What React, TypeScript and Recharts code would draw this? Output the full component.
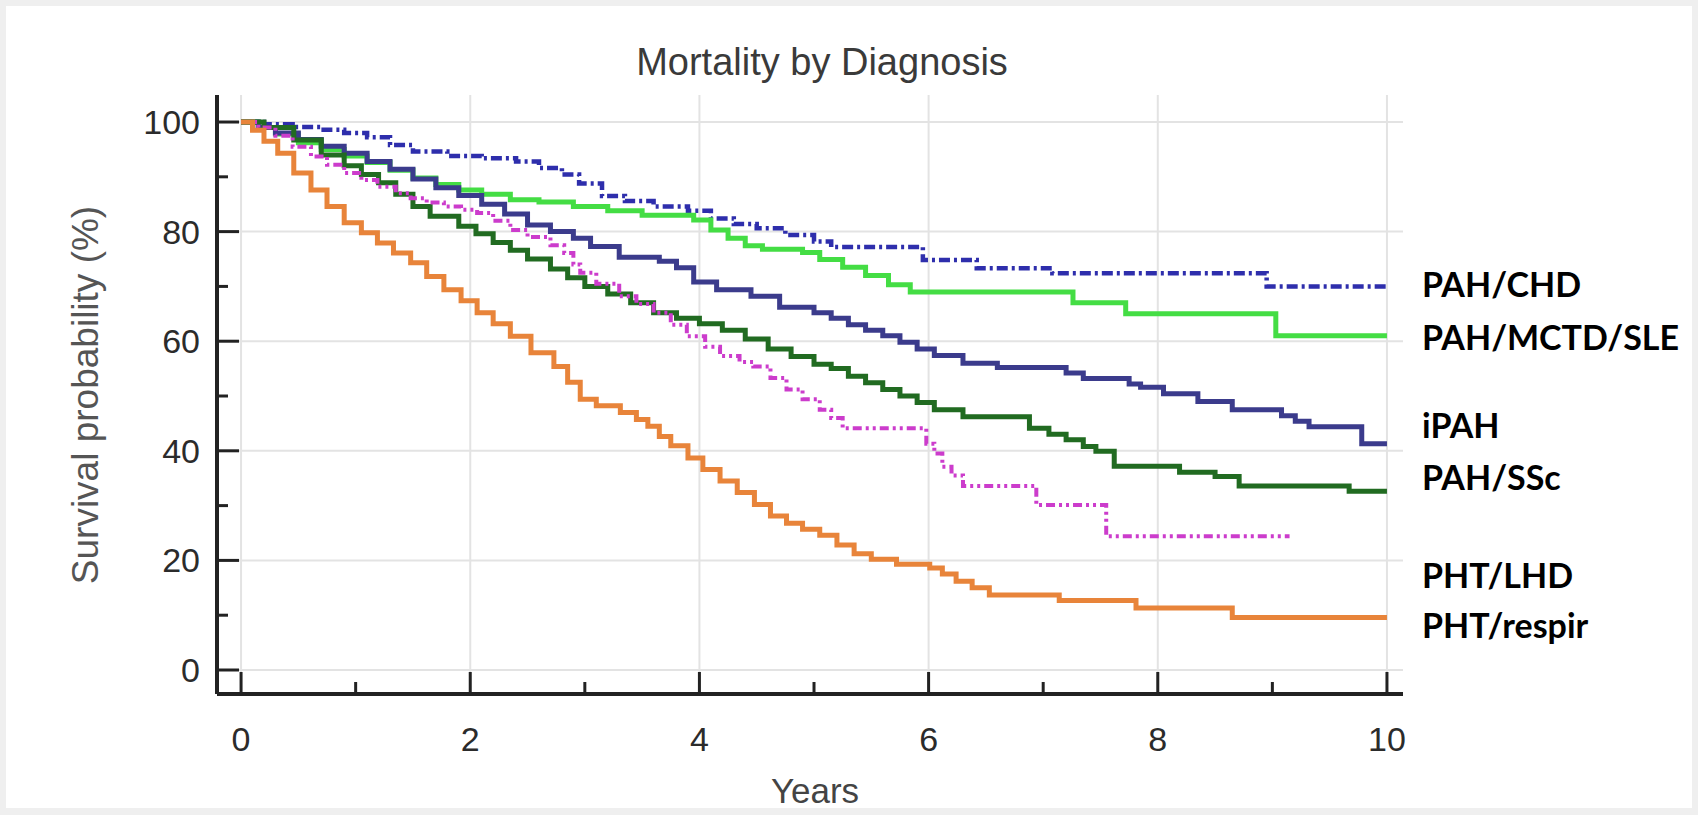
import React from 'react';
import { LineChart, Line, XAxis, YAxis, CartesianGrid } from 'recharts';

// Kaplan-Meier survival (%) by diagnosis
const chdTime = [0, 0.2, 0.45, 0.7, 0.9, 1.1, 1.3, 1.5, 1.8, 2.1, 2.4, 2.6, 2.8, 2.95, 3.15, 3.35, 3.6, 3.9, 4.1, 4.3, 4.5, 4.75, 5.0, 5.15, 5.95, 6.42, 7.08, 8.95, 10];
const chdSurv = [100, 99.6, 99.1, 98.6, 98, 97.2, 95.8, 94.6, 93.8, 93.4, 92.8, 91.6, 90.4, 88.8, 86.5, 85.6, 84.6, 83.8, 82.4, 81.4, 80.6, 79.4, 78.2, 77.2, 74.8, 73.3, 72.4, 70, 70];

const mctdTime = [0, 0.15, 0.3, 0.5, 0.7, 0.9, 1.1, 1.3, 1.5, 1.7, 1.9, 2.1, 2.35, 2.6, 2.9, 3.2, 3.5, 3.95, 4.1, 4.25, 4.4, 4.55, 4.9, 5.05, 5.25, 5.45, 5.65, 5.84, 7.26, 7.72, 9.03, 10];
const mctdSurv = [100, 99, 97.8, 96.2, 95, 93.8, 92.6, 91.2, 89.8, 88.6, 87.6, 86.8, 85.8, 85.4, 84.6, 83.8, 83, 82.1, 80.3, 78.8, 77.4, 76.8, 76.2, 74.9, 73.5, 72, 70.3, 69, 67, 65, 61, 61];

const ipahTime = [0, 0.15, 0.3, 0.5, 0.7, 0.9, 1.1, 1.3, 1.5, 1.7, 1.9, 2.1, 2.3, 2.5, 2.7, 2.9, 3.05, 3.3, 3.65, 3.8, 3.95, 4.15, 4.45, 4.7, 5.0, 5.15, 5.3, 5.45, 5.6, 5.75, 5.9, 6.05, 6.3, 6.6, 7.2, 7.35, 7.75, 7.85, 8.05, 8.35, 8.65, 9.08, 9.2, 9.32, 9.78, 10];
const ipahSurv = [100, 99, 98, 96.8, 95.6, 94.3, 92.8, 91.4, 89.6, 88, 86.6, 85, 83.2, 81.2, 80, 78.8, 77.3, 75.3, 74.6, 73.4, 70.8, 69.4, 68.2, 66.2, 65.2, 64.2, 63, 62, 61, 59.8, 58.6, 57.4, 56, 55.2, 54.2, 53.2, 52.2, 51.6, 50.4, 49, 47.5, 46.4, 45.4, 44.4, 41.3, 41.3];

const sscTime = [0, 0.2, 0.46, 0.7, 0.9, 1.05, 1.2, 1.35, 1.5, 1.65, 1.9, 2.05, 2.2, 2.35, 2.5, 2.7, 2.85, 3.0, 3.2, 3.4, 3.6, 3.8, 4.0, 4.2, 4.4, 4.6, 4.8, 5.0, 5.15, 5.3, 5.45, 5.6, 5.75, 5.9, 6.05, 6.3, 6.88, 7.05, 7.2, 7.35, 7.46, 7.62, 8.19, 8.5, 8.71, 9.67, 10];
const sscSurv = [100, 99, 96.7, 94, 92, 90.4, 88.9, 86.8, 84.6, 82.8, 81, 79.6, 78, 76.6, 75, 73.2, 71.6, 70, 68.6, 67, 65.2, 64.2, 63.2, 62, 60.4, 58.6, 57.2, 55.8, 55, 53.6, 52.4, 51.2, 50, 48.8, 47.5, 46.2, 44.1, 43, 42, 40.8, 39.9, 37.2, 36.1, 35.3, 33.6, 32.6, 32.6];

const lhdTime = [0, 0.15, 0.3, 0.45, 0.61, 0.75, 0.9, 1.05, 1.19, 1.35, 1.48, 1.62, 1.77, 1.92, 2.06, 2.2, 2.35, 2.5, 2.7, 2.82, 2.9, 2.96, 3.1, 3.3, 3.45, 3.6, 3.75, 3.89, 4.05, 4.18, 4.35, 4.47, 4.62, 4.76, 4.9, 5.05, 5.15, 5.25, 5.98, 6.05, 6.12, 6.2, 6.3, 6.94, 7.55, 9.15];
const lhdSurv = [100, 99, 97.5, 95.5, 93.7, 92.2, 90.7, 89.4, 88.2, 87, 86.1, 85.3, 84.6, 84, 83.4, 82, 80.3, 79, 77.5, 76.1, 74, 72.5, 70.5, 68.2, 66.8, 65.2, 63, 60.9, 59, 57.3, 56.2, 55.4, 53.3, 51.2, 49.4, 47.5, 46, 44.1, 41.3, 39.5, 37.1, 35.5, 33.6, 30.1, 24.4, 24.4];

const respTime = [0, 0.1, 0.2, 0.32, 0.46, 0.61, 0.75, 0.9, 1.05, 1.19, 1.33, 1.48, 1.62, 1.77, 1.92, 2.06, 2.2, 2.35, 2.53, 2.73, 2.85, 2.96, 3.1, 3.31, 3.45, 3.55, 3.65, 3.75, 3.9, 4.03, 4.18, 4.33, 4.48, 4.62, 4.76, 4.9, 5.05, 5.2, 5.35, 5.5, 5.72, 6.01, 6.12, 6.24, 6.38, 6.53, 7.14, 7.81, 8.65, 10];
const respSurv = [100, 98.5, 96.5, 94.3, 90.7, 87.6, 84.6, 81.6, 79.8, 77.9, 76.1, 74.3, 71.8, 69.4, 67.4, 65.2, 63.2, 60.9, 57.9, 55.4, 52.5, 49.4, 48.2, 47, 45.7, 44.5, 42.6, 40.9, 38.7, 36.6, 34.5, 32.4, 30.2, 28.1, 26.8, 25.7, 24.6, 22.8, 21.2, 20.2, 19.3, 18.6, 17.5, 16.2, 15, 13.7, 12.7, 11.3, 9.6, 9.6];

const diagnoses = ['PAH/CHD', 'PAH/MCTD/SLE', 'iPAH', 'PAH/SSc', 'PHT/LHD', 'PHT/respir'];
const yTicks = [0, 10, 20, 30, 40, 50, 60, 70, 80, 90, 100];
const xTicks = [0, 1, 2, 3, 4, 5, 6, 7, 8, 9, 10];

const toPoints = (t: number[], s: number[]) => t.map((v, i) => ({ t: v, s: s[i] }));

const series = [
  { name: diagnoses[0], data: toPoints(chdTime, chdSurv), color: '#2e2eac', width: 4.5, dash: '11 4 3 4' },
  { name: diagnoses[1], data: toPoints(mctdTime, mctdSurv), color: '#44dd44', width: 5, dash: undefined },
  { name: diagnoses[2], data: toPoints(ipahTime, ipahSurv), color: '#3b3b8c', width: 5, dash: undefined },
  { name: diagnoses[3], data: toPoints(sscTime, sscSurv), color: '#216b21', width: 5, dash: undefined },
  { name: diagnoses[4], data: toPoints(lhdTime, lhdSurv), color: '#cc3ccc', width: 4, dash: '9 4 3 4 3 4' },
  { name: diagnoses[5], data: toPoints(respTime, respSurv), color: '#e8843a', width: 5, dash: undefined },
];

const FONT = '"Liberation Sans", Arial, sans-serif';
const labelCenters = [284, 337, 425, 477, 575, 625];

const YTick = (props: any) => {
  const { x, y, payload } = props;
  const major = payload.value % 20 === 0;
  return (
    <g>
      <line x1={x} y1={y} x2={x + (major ? 22 : 11)} y2={y} stroke="#222" strokeWidth={3} />
      {major && (
        <text x={x - 17} y={y} textAnchor="end" dominantBaseline="central" fontFamily={FONT} fontSize={34} fill="#2b2b2b">
          {payload.value}
        </text>
      )}
    </g>
  );
};

const XTick = (props: any) => {
  const { x, y, payload } = props;
  const major = payload.value % 2 === 0;
  return (
    <g>
      <line x1={x} y1={y} x2={x} y2={y - (major ? 22 : 12)} stroke="#222" strokeWidth={3} />
      {major && (
        <text x={x} y={y + 45} textAnchor="middle" dominantBaseline="central" fontFamily={FONT} fontSize={34} fill="#2b2b2b">
          {payload.value}
        </text>
      )}
    </g>
  );
};

export default function App() {
  return (
    <div style={{ position: 'absolute', left: 0, top: 0, width: 1698, height: 815, background: '#efefef', overflow: 'hidden' }}>
      <div style={{ position: 'absolute', left: 6, top: 6, width: 1686, height: 802, background: '#ffffff' }} />

      <div style={{ position: 'absolute', left: 0, top: 0 }}>
        <LineChart width={1698} height={815} margin={{ top: 95, left: 157, right: 295, bottom: 91 }}>
          <CartesianGrid
            stroke="#e3e3e3"
            strokeWidth={2}
            horizontalValues={[0, 20, 40, 60, 80, 100]}
            verticalValues={[0, 2, 4, 6, 8, 10]}
          />
          <XAxis
            dataKey="t"
            type="number"
            domain={[-0.21, 10.14]}
            ticks={xTicks}
            interval={0}
            height={30}
            tickSize={0}
            tickMargin={0}
            tickLine={false}
            tick={<XTick />}
            axisLine={{ stroke: '#222', strokeWidth: 4 }}
            allowDataOverflow
          />
          <YAxis
            type="number"
            domain={[-4.38, 104.93]}
            ticks={yTicks}
            interval={0}
            width={60}
            tickSize={0}
            tickMargin={0}
            tickLine={false}
            tick={<YTick />}
            axisLine={{ stroke: '#222', strokeWidth: 4 }}
            allowDataOverflow
          />
          {series.map((s) => (
            <Line
              key={s.name}
              name={s.name}
              data={s.data}
              dataKey="s"
              type="stepAfter"
              stroke={s.color}
              strokeWidth={s.width}
              strokeDasharray={s.dash}
              dot={false}
              activeDot={false}
              isAnimationActive={false}
            />
          ))}
        </LineChart>
      </div>

      {/* Title */}
      <div style={{ position: 'absolute', left: 822, top: 62, transform: 'translate(-50%, -50%)', fontFamily: FONT, fontSize: 38, color: '#3a3a3a', whiteSpace: 'nowrap', lineHeight: 1 }}>
        Mortality by Diagnosis
      </div>

      {/* Axis titles */}
      <div style={{ position: 'absolute', left: 85, top: 395, transform: 'translate(-50%, -50%) rotate(-90deg)', fontFamily: FONT, fontSize: 37, color: '#555', whiteSpace: 'nowrap', lineHeight: 1 }}>
        Survival probability (%)
      </div>
      <div style={{ position: 'absolute', left: 815, top: 790, transform: 'translate(-50%, -50%)', fontFamily: FONT, fontSize: 35, color: '#444', whiteSpace: 'nowrap', lineHeight: 1 }}>
        Years
      </div>

      {/* Diagnosis labels on the right */}
      {diagnoses.map((d, i) => (
        <div
          key={d}
          style={{ position: 'absolute', left: 1422, top: labelCenters[i], transform: 'translateY(-50%)', fontFamily: 'Lato, "Open Sans", sans-serif', fontWeight: 700, fontSize: 34, color: '#000', whiteSpace: 'nowrap', lineHeight: 1 }}
        >
          {d}
        </div>
      ))}
    </div>
  );
}
